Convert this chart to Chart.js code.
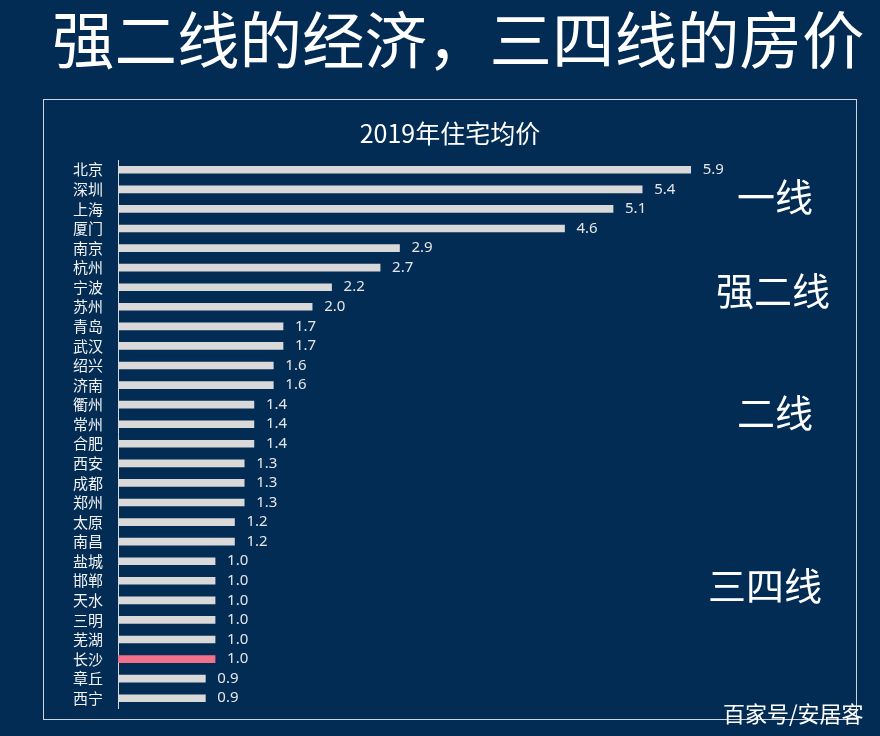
<!DOCTYPE html>
<html>
<head>
<meta charset="utf-8">
<script src="https://cdn.jsdelivr.net/npm/chart.js@4/dist/chart.umd.min.js"></script>
<style>
    body {
        margin: 0;
        width: 880px;
        height: 736px;
        background: #032c55;
        position: relative;
        overflow: hidden;
        font-family: "Noto Sans CJK SC", "Noto Sans", sans-serif;
    }
    #titulo {
        position: absolute;
        left: 52px;
        top: 6px;
        font-size: 62.5px;
        line-height: 62px;
        color: #ffffff;
        white-space: nowrap;
    }
    #caja {
        position: absolute;
        left: 43px;
        top: 99px;
        width: 812px;
        height: 619px;
        border: 1px solid #d0d4da;
        overflow: hidden;
    }
    #grafica {
        display: block;
    }
    #marca {
        position: absolute;
        left: 723px;
        top: 698px;
        font-size: 22px;
        line-height: 28px;
        color: #ffffff;
        white-space: nowrap;
    }
</style>
</head>
<body>
<div id="titulo">强二线的经济，三四线的房价</div>
<div id="caja"><canvas id="grafica" width="812" height="632"></canvas></div>
<div id="marca">百家号/安居客</div>
<script>
// Datos (precio medio en 10k yuan/m2)
const ciudades = ['北京', '深圳', '上海', '厦门', '南京', '杭州', '宁波', '苏州', '青岛', '武汉',
    '绍兴', '济南', '衢州', '常州', '合肥', '西安', '成都', '郑州', '太原', '南昌',
    '盐城', '邯郸', '天水', '三明', '芜湖', '长沙', '章丘', '西宁'];
const precios = [5.9, 5.4, 5.1, 4.6, 2.9, 2.7, 2.2, 2.0, 1.7, 1.7,
    1.6, 1.6, 1.4, 1.4, 1.4, 1.3, 1.3, 1.3, 1.2, 1.2,
    1.0, 1.0, 1.0, 1.0, 1.0, 1.0, 0.9, 0.9];
const ciudadDestacada = '长沙';
const niveles = ['一线', '强二线', '二线', '三四线'];

const colores = ciudades.map(function (c) {
    return c === ciudadDestacada ? '#f07189' : '#d9d9d9';
});

// Titulo interno, etiquetas de valor y niveles a la derecha
const dibujarExtras = {
    id: 'dibujarExtras',
    afterDatasetsDraw: function (chart) {
        const ctx = chart.ctx;
        const y = chart.scales.y;
        ctx.save();

        ctx.fillStyle = '#ffffff';
        ctx.font = '25px "Noto Sans CJK SC"';
        ctx.textAlign = 'center';
        ctx.textBaseline = 'middle';
        ctx.fillText('2019年住宅均价', 406, 33);

        ctx.fillStyle = '#e6e6e6';
        ctx.font = '15px "Noto Sans"';
        ctx.textAlign = 'left';
        chart.getDatasetMeta(0).data.forEach(function (bar, i) {
            ctx.fillText(precios[i].toFixed(1), bar.x + 12, bar.y);
        });

        ctx.fillStyle = '#ffffff';
        ctx.font = '38px "Noto Sans CJK SC"';
        ctx.textAlign = 'center';
        const anclas = [1.35, 6.15, 12.4, 21.25];
        const xs = [731, 729, 731, 721];
        niveles.forEach(function (t, i) {
            ctx.fillText(t, xs[i], y.getPixelForValue(anclas[i]));
        });
        ctx.restore();
    }
};

new Chart(document.getElementById('grafica'), {
    type: 'bar',
    data: {
        labels: ciudades,
        datasets: [{
            data: precios,
            backgroundColor: colores,
            barThickness: 7,
        }],
    },
    options: {
        indexAxis: 'y',
        responsive: false,
        animation: false,
        devicePixelRatio: 1,
        layout: {
            padding: { top: 60, bottom: 11, right: 10, left: 0 },
        },
        plugins: {
            legend: { display: false },
            tooltip: { enabled: false },
        },
        scales: {
            x: {
                display: false,
                min: 0,
                max: 7.5,
            },
            y: {
                afterFit: function (scale) {
                    scale.width = 74;
                },
                grid: { display: false, drawTicks: false },
                border: { display: true, color: '#d9d9d9', width: 1 },
                ticks: {
                    color: '#f2f2f2',
                    padding: 15,
                    autoSkip: false,
                    font: { size: 15, family: '"Noto Sans CJK SC"' },
                },
            },
        },
    },
    plugins: [dibujarExtras],
});
</script>
</body>
</html>
